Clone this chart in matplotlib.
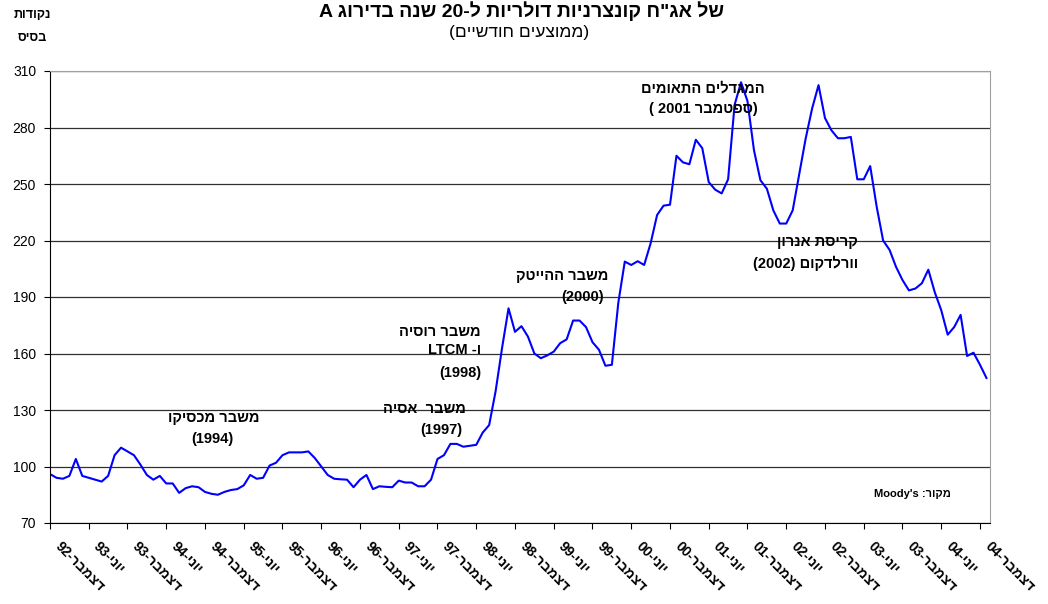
import re
import numpy as np
import matplotlib
matplotlib.use('Agg')
import matplotlib.pyplot as plt
import matplotlib.transforms as mtrans

plt.rcParams['font.family'] = ['Liberation Sans', 'DejaVu Sans']

# monthly spread, Dec-92 .. Jan-05 (basis points)
spread = [96, 94, 93.5, 95, 104, 95, 94, 93, 92, 95,
          106, 110, 108, 106, 101, 95.5, 93, 95, 91, 91,
          86, 88.5, 89.5, 89, 86.5, 85.5, 85, 86.5, 87.5, 88,
          90, 95.5, 93.5, 94, 100.5, 102, 106, 107.5, 107.5, 107.5,
          108, 104.5, 100, 95.5, 93.5, 93.2, 93, 89, 93, 95.5,
          88, 89.5, 89.2, 89, 92.5, 91.5, 91.5, 89.5, 89.5, 93,
          104, 106, 112, 112, 110.5, 111, 111.5, 118, 122, 140,
          163, 184, 171.5, 174.5, 169, 160, 157.5, 159, 161, 165.5,
          167.5, 177.5, 177.5, 174, 166, 162, 153.5, 154, 187, 208.8,
          207, 209, 207, 218.5, 233.5, 238.5, 239, 265, 261.5, 260.5,
          273.5, 269, 251, 247, 245, 252.5, 292, 304, 294, 268,
          252, 247.5, 236, 229, 229, 236, 255, 274, 290, 302.5,
          285, 278.5, 274.3, 274.3, 275, 252.5, 252.5, 259.5, 238, 220,
          215, 206, 199, 193.5, 194.5, 197.3, 204.5, 192.5, 183, 170,
          174, 180.5, 158.7, 160.4, 154, 147]

years = ['92', '93', '93', '94', '94', '95', '95', '96', '96', '97', '97', '98', '98',
         '99', '99', '00', '00', '01', '01', '02', '02', '03', '03', '04', '04']
months = ['דצמבר', 'יוני']
yticks = [70, 100, 130, 160, 190, 220, 250, 280, 310]

events = [
    ('משבר מכסיקו', '(1994)', 214, 418, 212, 439, 'center'),
    ('משבר  אסיה', '(1997)', 466, 409, 462, 430, 'right'),
    ('משבר רוסיה\nו- LTCM', '(1998)', 481, 341, 481, 373, 'right'),
    ('משבר ההייטק', '(2000)', 608, 276, 604, 297, 'right'),
    ('המגדלים התאומים', '(ספטמבר 2001 )', 703, 88, 703, 109, 'center'),
    ('קריסת אנרון', 'וורלדקום (2002)', 858, 242, 858, 263, 'right'),
]


def rtl(s):
    # visual order for right-to-left text, keeping latin/digit runs intact
    out = []
    for line in s.split('\n'):
        toks = re.findall(r"[A-Za-z0-9][A-Za-z0-9']*|.", line)
        mirror = {'(': ')', ')': '('}
        out.append(''.join(mirror.get(t, t) for t in reversed(toks)))
    return '\n'.join(out)


W, H = 1048, 604
fig = plt.figure(figsize=(W / 100, H / 100), dpi=100)
ax = fig.add_axes([50 / W, 81 / H, 940 / W, 452 / H])

x = np.arange(len(spread))
ax.plot(x, spread, color='#0000ff', lw=1.5)

ax.set_ylim(70, 310)
ax.set_xlim(0, 145.55)
ax.set_yticks(yticks)
ax.set_yticklabels([str(v) for v in yticks], fontsize=10)
ax.yaxis.grid(True, color='#303030', lw=0.9)
ax.set_axisbelow(True)

pos = np.arange(0, 145, 6)
labels = [rtl(months[i % 2] + '-' + years[i]) for i in range(len(pos))]
ax.set_xticks(pos)
ax.set_xticklabels(labels, rotation=-45, ha='left', va='top',
                   rotation_mode='anchor', fontsize=10, fontweight='bold')
ax.tick_params(axis='x', direction='out', length=4, pad=8, color='black')
ax.tick_params(axis='y', direction='out', length=4, pad=6, color='black')
shift = mtrans.ScaledTranslation(12 / 100, 0, fig.dpi_scale_trans)
for lab in ax.get_xticklabels():
    lab.set_transform(lab.get_transform() + shift)

for side in ['left', 'bottom']:
    ax.spines[side].set_color('black')
for side in ['top', 'right']:
    ax.spines[side].set_color('#a0a0a0')

for t1, t2, x1, y1, x2, y2, ha in events:
    ax.text(x1 / W, 1 - y1 / H, rtl(t1), transform=fig.transFigure, ha=ha, va='center',
            fontsize=10.5, fontweight='bold', linespacing=1.3)
    ax.text(x2 / W, 1 - y2 / H, rtl(t2), transform=fig.transFigure, ha=ha, va='center',
            fontsize=10.5, fontweight='bold')

fig.text(912 / W, 1 - 494 / H, rtl("מקור: Moody's"), ha='center', va='center',
         fontsize=8, fontweight='bold')

fig.text(522 / W, 1 - 17 / H, rtl('של אג"ח קונצרניות דולריות ל-20 שנה בדירוג A'),
         ha='center', va='baseline', fontsize=14, fontweight='bold')
fig.text(519 / W, 1 - 33 / H, rtl('(ממוצעים חודשיים)'), ha='center', va='center', fontsize=12.5)
fig.text(32 / W, 1 - 15 / H, rtl('נקודות'), ha='center', va='center', fontsize=9, fontweight='bold')
fig.text(32 / W, 1 - 38 / H, rtl('בסיס'), ha='center', va='center', fontsize=9, fontweight='bold')

fig.savefig('out.png', dpi=100)
